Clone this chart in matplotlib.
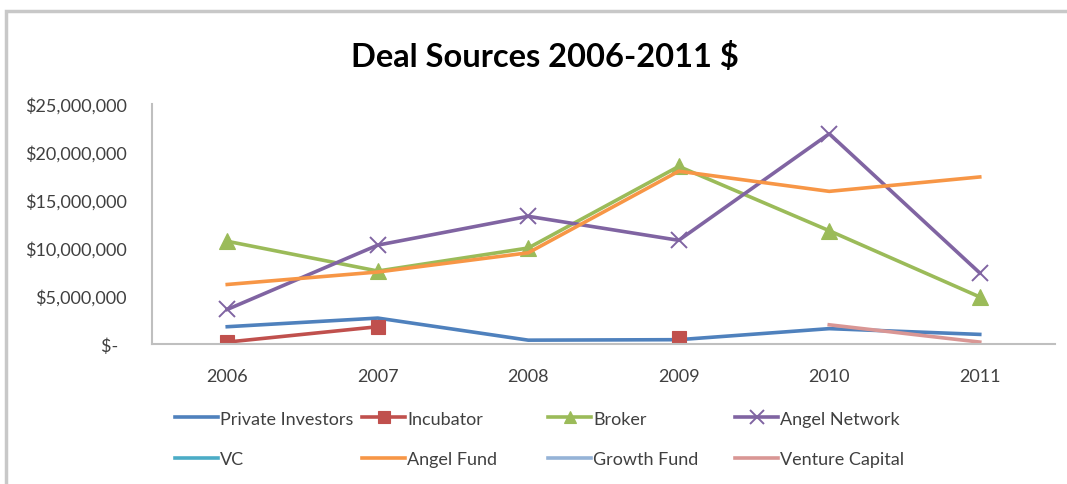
import numpy as np
import matplotlib.pyplot as plt
from matplotlib.patches import Rectangle
from matplotlib.ticker import FuncFormatter

plt.rcParams['font.family'] = ['Lato', 'DejaVu Sans']

nan = np.nan
years = ['2006', '2007', '2008', '2009', '2010', '2011']

# deal amounts in $ millions
private_investors = [1.8, 2.7, 0.4, 0.45, 1.6, 1.0]
incubator = [0.2, 1.8, nan, 0.6, nan, nan]
broker = [10.7, 7.6, 10.0, 18.5, 11.8, 4.9]
angel_network = [3.6, 10.3, 13.3, 10.8, 21.9, 7.4]
vc = [nan, nan, nan, nan, nan, nan]
angel_fund = [6.2, 7.5, 9.5, 18.0, 15.9, 17.4]
growth_fund = [nan, nan, nan, nan, nan, nan]
venture_capital = [nan, nan, nan, nan, 2.0, 0.2]

series = [
    ('Private Investors', private_investors, '#4F81BD', None, 0),
    ('Incubator', incubator, '#C0504D', 's', 10.5),
    ('Broker', broker, '#9BBB59', '^', 11),
    ('Angel Network', angel_network, '#8064A2', 'x', 11.5),
    ('VC', vc, '#4BACC6', None, 0),
    ('Angel Fund', angel_fund, '#F79646', None, 0),
    ('Growth Fund', growth_fund, '#95B3D7', None, 0),
    ('Venture Capital', venture_capital, '#D99694', None, 0),
]

W, H = 1067, 485
fig = plt.figure(figsize=(W / 100, H / 100), dpi=100)
ax = fig.add_axes([152 / W, 1 - 345 / H, (1055 - 152) / W, (345 - 105) / H])

x = np.arange(len(years))
handles = []
for name, vals, color, marker, ms in series:
    vals = np.array(vals, dtype=float) * 1e6
    line, = ax.plot(x, vals, color=color, lw=2.6, marker=marker, markersize=ms,
                    markeredgewidth=1.4 if marker == 'x' else 0.8,
                    markeredgecolor=color, solid_joinstyle='round', label=name)
    handles.append(line)

ax.set_xlim(-0.5, 5.5)
ax.set_ylim(0, 25e6)
ax.set_xticks(x)
ax.set_xticklabels(years)
ax.set_yticks(np.arange(0, 25e6 + 1, 5e6))


def money(v, pos):
    if v == 0:
        return '$-  '
    return '${:,.0f}'.format(v)


ax.yaxis.set_major_formatter(FuncFormatter(money))
ax.tick_params(axis='both', length=0, labelsize=13, colors='#404040')
ax.tick_params(axis='y', pad=18)
ax.tick_params(axis='x', pad=17)
for side in ['top', 'right']:
    ax.spines[side].set_visible(False)
for side in ['left', 'bottom']:
    ax.spines[side].set_color('#bfbfbf')
    ax.spines[side].set_linewidth(1.5)

fig.text(545 / W, 1 - 57 / H, 'Deal Sources 2006-2011 $', ha='center', va='center',
         fontsize=23.5, fontweight='bold', color='#000000')

# four equal-width legend columns, two entries each
col_x = [175, 362, 548, 735]
for i, cx in enumerate(col_x):
    leg = fig.legend(handles=[handles[i], handles[i + 4]], loc='center left',
                     bbox_to_anchor=(cx / W, 1 - 440 / H), frameon=False,
                     fontsize=13, handlelength=2.4, handletextpad=0.1,
                     labelspacing=1.35, borderaxespad=0, borderpad=0,
                     markerscale=0.85)
    for t in leg.get_texts():
        t.set_color('#404040')

# chart area frame
fig.patches.append(Rectangle((6 / W, -0.2), 1.2, 1.2 - 12 / H,
                             transform=fig.transFigure, fill=False,
                             edgecolor='#c8c8c8', linewidth=2.5))

fig.savefig('out.png', dpi=100)
